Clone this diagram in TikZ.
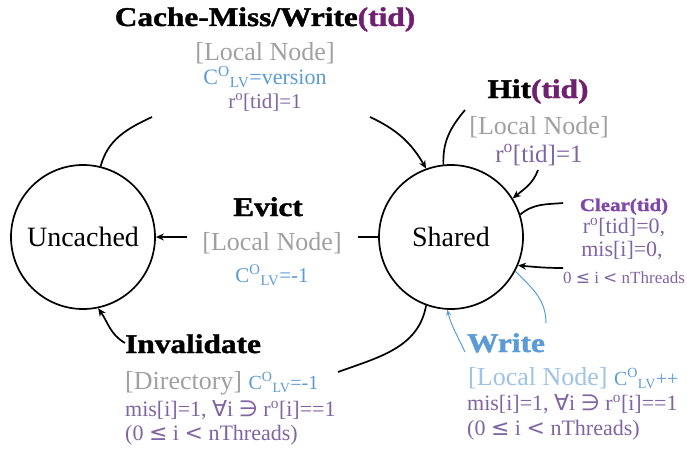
\documentclass[tikz,border=0pt]{standalone}
\usepackage{fontspec}
\setmainfont{Liberation Serif}[BoldFeatures={FakeStretch=1.16,FakeBold=1.5}]
\newfontfamily\symfnt{DejaVu Sans}
\usetikzlibrary{arrows.meta}

\definecolor{tidpurple}{RGB}{112,32,112}
\definecolor{clrpurple}{RGB}{128,70,170}
\definecolor{vpurple}{RGB}{128,100,162}
\definecolor{lngray}{RGB}{160,160,160}
\definecolor{cvblue}{RGB}{91,155,213}
\definecolor{ltblue}{RGB}{157,195,230}

\newcommand{\fs}[1]{\fontsize{#1}{#1}\selectfont}
\newcommand{\clv}{C\textsuperscript{O}\textsubscript{LV}}
\newcommand{\ro}{r\textsuperscript{o}}
\newcommand{\tidp}{\textcolor{tidpurple}{(tid)}}

\tikzset{
  state/.style={circle, draw, line width=1.7pt, minimum size=144pt, inner sep=0pt, font=\fs{28}},
  evname/.style={inner sep=0pt, anchor=base, font=\bfseries\fs{27}},
  txt/.style={inner sep=0pt, anchor=base},
  link/.style={line width=1.7pt},
  tip/.style={-{Stealth[length=8pt,width=7pt]}},
  bluelink/.style={line width=1pt, cvblue},
  bluetip/.style={-{Stealth[length=6pt,width=5pt]}}
}

\begin{document}
\begin{tikzpicture}[x=1pt,y=1pt]
\useasboundingbox (0,0) rectangle (687,451);

% states
\node[state] (unc) at (83,214) {Uncached};
\node[state] (shr) at (451,214) {Shared};

% Cache-Miss/Write
\node[evname] (cmT) at (265,425) {Cache-Miss/Write\tidp};
\node[txt, lngray, font=\fs{26}] (cm1) at (265,391) {[Local Node]};
\node[txt, cvblue, font=\fs{22}] (cm2) at (265,367) {\clv=version};
\node[txt, vpurple, font=\fs{21}] (cm3) at (265,343) {\ro[tid]=1};

% Hit
\node[evname] (hitT) at (538,353) {Hit\tidp};
\node[txt, lngray, font=\fs{26}] (hit1) at (539,317) {[Local Node]};
\node[txt, vpurple, font=\fs{25}] (hit2) at (539,289) {\ro[tid]=1};

% Evict
\node[evname] (evT) at (268,235) {Evict};
\node[txt, lngray, font=\fs{26}] (ev1) at (272,201) {[Local Node]};
\node[txt, cvblue, font=\fs{21}] (ev2) at (272,169) {\clv=-1};

% Clear
\node[evname, clrpurple, font=\bfseries\fs{18}] (clT) at (624,240) {Clear(tid)};
\node[txt, vpurple, font=\fs{22}] (cl1) at (624,218) {\ro[tid]=0,};
\node[txt, vpurple, font=\fs{22}] (cl2) at (622,195) {mis[i]=0,};
\node[txt, vpurple, font=\fs{17}] (cl3) at (624,168) {0 {\symfnt≤} i {\symfnt<} nThreads};

% Write
\node[evname, anchor=base west, cvblue] (wrT) at (467,99) {Write};
\node[txt, anchor=base west, ltblue, font=\fs{26}] (wr1) at (468,66) {[Local Node] {\fs{20}\textcolor{cvblue}{\clv++}}};
\node[txt, anchor=base west, vpurple, font=\fs{22}] (wr2) at (467,41) {mis[i]=1, {\symfnt∀}i {\symfnt∋} \ro[i]==1};
\node[txt, anchor=base west, vpurple, font=\fs{22}] (wr3) at (467,16) {(0 {\symfnt≤} i {\symfnt<} nThreads)};

% Invalidate
\node[evname, anchor=base west] (invT) at (125,98) {Invalidate};
\node[txt, anchor=base west, lngray, font=\fs{26}] (inv1) at (125,62) {[Directory] {\fs{20}\textcolor{cvblue}{\clv=-1}}};
\node[txt, anchor=base west, vpurple, font=\fs{22}] (inv2) at (125,35) {mis[i]=1, {\symfnt∀}i {\symfnt∋} \ro[i]==1};
\node[txt, anchor=base west, vpurple, font=\fs{22}] (inv3) at (125,11) {(0 {\symfnt≤} i {\symfnt<} nThreads)};

% free ends of the broken arcs
\coordinate (cmA) at (152,334);
\coordinate (cmB) at (370,334);
\coordinate (hitA) at (465,341);
\coordinate (hitB) at (538,281);
\coordinate (evA) at (358,214);
\coordinate (evB) at (187,214);
\coordinate (clA) at (563,248);
\coordinate (clB) at (563,183);
\coordinate (wrA) at (546,128);
\coordinate (wrB) at (465,99);
\coordinate (invA) at (338,79);
\coordinate (invB) at (125,108);

% transitions
\draw[link] (unc.76) to[out=75, in=205] (cmA);
\draw[link, tip] (cmB) to[out=-25, in=120] (shr.110);
\draw[link] (shr.96) to[out=92, in=230] (hitA);
\draw[link, tip] (hitB) to[out=-110, in=40] (shr.32);
\draw[link] (shr.18) to[out=40, in=185] (clA);
\draw[link, tip] (clB) to[out=180, in=-5] (shr.-23);
\draw[bluelink] (shr.-28) to[out=-45, in=90] (wrA);
\draw[bluelink, bluetip] (wrB) to[out=115, in=-75] (shr.-93);
\draw[link] (shr.180) -- (evA);
\draw[link, tip] (evB) -- (unc.0);
\draw[link] (shr.-110) to[out=-100, in=20] (invA);
\draw[link, tip] (invB) to[out=150, in=-55] (unc.-78);
\end{tikzpicture}
\end{document}
